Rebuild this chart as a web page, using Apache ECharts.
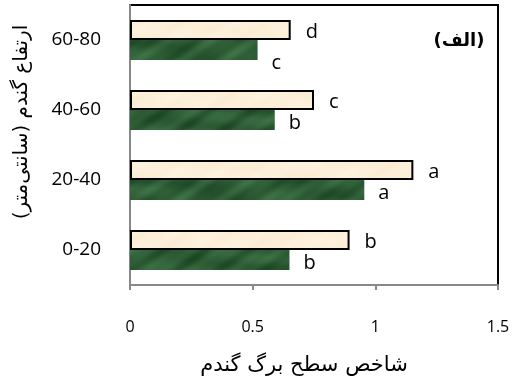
<!DOCTYPE html>
<html>
<head>
<meta charset="utf-8">
<script src="https://cdn.jsdelivr.net/npm/echarts@6/dist/echarts.min.js"></script>
<style>
  html, body { margin: 0; padding: 0; background: #fff; }
  #chart { width: 514px; height: 387px; }
</style>
</head>
<body>
<div id="chart"></div>
<script>
// Wheat height classes (cm), bottom to top
const categories = ['0-20', '20-40', '40-60', '60-80'];
// Leaf area index, two treatments
const beigeValues = [0.895, 1.155, 0.75, 0.655];
const greenValues = [0.65, 0.955, 0.59, 0.52];
// Mean-separation letters
const beigeLetters = ['b', 'a', 'c', 'd'];
const greenLetters = ['b', 'a', 'b', 'c'];
const xTicks = [0, 0.5, 1, 1.5];

const FONT = '"Open Sans", "Noto Sans", sans-serif';
const AR_FONT = '"DejaVu Sans", sans-serif';

// Soft marbled fill textures for the bars (deterministic, drawn once)
function makeTexture(base, amp, w, h) {
  const c = document.createElement('canvas');
  c.width = w; c.height = h;
  const g = c.getContext('2d');
  const img = g.createImageData(w, h);
  for (let y = 0; y < h; y++) {
    for (let x = 0; x < w; x++) {
      const t = 0.45 * Math.sin(x * 0.11 + y * 0.23 + 1.7 * Math.sin(x * 0.031))
              + 0.35 * Math.sin(x * 0.047 - y * 0.19 + 0.9 * Math.cos(y * 0.13 + x * 0.02))
              + 0.2 * Math.sin(x * 0.29 + y * 0.41);
      const k = t * amp;
      const i = (y * w + x) * 4;
      img.data[i] = Math.max(0, Math.min(255, base[0] + k * base[3]));
      img.data[i + 1] = Math.max(0, Math.min(255, base[1] + k * base[4]));
      img.data[i + 2] = Math.max(0, Math.min(255, base[2] + k * base[5]));
      img.data[i + 3] = 255;
    }
  }
  g.putImageData(img, 0, 0);
  return c;
}
const greenTex = makeTexture([45, 92, 53, 0.8, 1.0, 0.8], 22, 520, 300);
const beigeTex = makeTexture([252, 239, 217, 0.3, 0.6, 1.0], 6, 520, 300);

const chart = echarts.init(document.getElementById('chart'), null, { renderer: 'canvas' });

const letterStyle = { fontFamily: FONT, fontSize: 20, color: '#000' };

chart.setOption({
  animation: false,
  grid: {
    left: 130, right: 16, top: 5, bottom: 102,
    show: true, borderColor: '#000', borderWidth: 2, backgroundColor: 'transparent'
  },
  xAxis: {
    type: 'value',
    min: 0, max: 1.5, interval: 0.5,
    splitLine: { show: false },
    axisLine: { show: true, lineStyle: { color: '#888', width: 2 } },
    axisTick: { show: true, length: 5, lineStyle: { color: '#888', width: 2 } },
    axisLabel: {
      fontFamily: FONT, fontSize: 16, color: '#000', margin: 34,
      formatter: v => (xTicks.includes(v) ? String(v) : '')
    }
  },
  yAxis: {
    type: 'category',
    data: categories,
    axisLine: { show: true, lineStyle: { color: '#888', width: 2 } },
    axisTick: { show: false },
    axisLabel: { fontFamily: FONT, fontSize: 19, color: '#000', margin: 29 }
  },
  graphic: [
    {
      type: 'text',
      x: 459, y: 41,
      style: { text: '(الف)', font: 'bold 18px ' + AR_FONT, fill: '#000', align: 'center', verticalAlign: 'middle' }
    },
    {
      type: 'text',
      x: 304, y: 366,
      style: { text: 'شاخص سطح برگ گندم', font: '21px ' + AR_FONT, fill: '#000', align: 'center', verticalAlign: 'middle' }
    },
    {
      type: 'text',
      x: 22, y: 122, rotation: Math.PI / 2,
      style: { text: 'ارتفاع گندم (سانتی‌متر)', font: '20px ' + AR_FONT, fill: '#000', align: 'center', verticalAlign: 'middle' }
    }
  ],
  series: [
    {
      type: 'bar',
      data: beigeValues,
      barWidth: 20,
      barGap: '0%',
      itemStyle: { color: { image: beigeTex, repeat: 'no-repeat' }, borderColor: '#000', borderWidth: 2 },
      label: {
        show: true, position: 'right', distance: 15, offset: [0, 2],
        formatter: p => beigeLetters[p.dataIndex],
        ...letterStyle
      }
    },
    {
      type: 'bar',
      data: greenValues.map((v, i) => ({
        value: v,
        label: { offset: i === 3 ? [0, 13] : [0, 3] }
      })),
      barWidth: 20,
      barGap: '0%',
      itemStyle: { color: { image: greenTex, repeat: 'no-repeat' } },
      label: {
        show: true, position: 'right', distance: 14,
        formatter: p => greenLetters[p.dataIndex],
        ...letterStyle
      }
    }
  ]
});
</script>
</body>
</html>
